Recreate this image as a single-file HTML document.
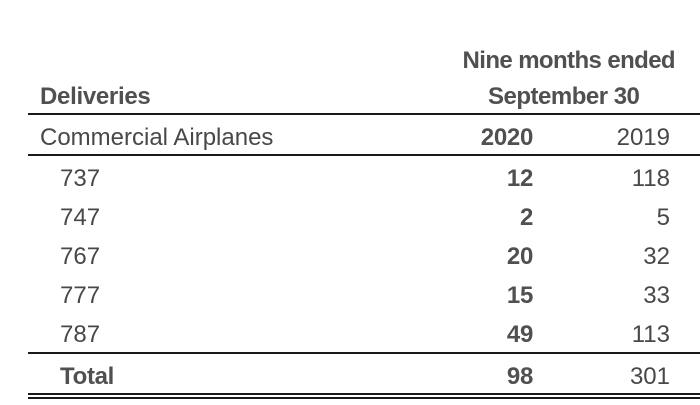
<!DOCTYPE html>
<html><head><meta charset="utf-8"><style>
body{margin:0;width:700px;height:405px;background:#fff;position:relative;overflow:hidden;font-family:"Liberation Sans",Arial,sans-serif;color:#484848}
.t{position:absolute;font-size:24px;line-height:24px;white-space:nowrap}
.b{font-weight:bold;color:#505050;letter-spacing:-0.3px}
.r{text-align:right}
.l{position:absolute;left:28px;right:0;background:#1a1a1a}
</style></head><body>
<div class="t b r" style="right:25px;top:49px;letter-spacing:-0.6px">Nine months ended</div>
<div class="t b" style="left:40px;top:85px">Deliveries</div>
<div class="t b" style="left:488px;top:85px;letter-spacing:-0.5px">September 30</div>
<div class="l" style="top:113px;height:2px"></div>
<div class="t" style="left:40px;top:126px">Commercial Airplanes</div>
<div class="t b r" style="right:167px;top:126px">2020</div>
<div class="t r" style="right:30px;top:126px">2019</div>
<div class="l" style="top:154px;height:2px"></div>

<div class="t" style="left:60px;top:167px">737</div>
<div class="t b r" style="right:167px;top:167px">12</div>
<div class="t r" style="right:30px;top:167px">118</div>

<div class="t" style="left:60px;top:206px">747</div>
<div class="t b r" style="right:167px;top:206px">2</div>
<div class="t r" style="right:30px;top:206px">5</div>

<div class="t" style="left:60px;top:245px">767</div>
<div class="t b r" style="right:167px;top:245px">20</div>
<div class="t r" style="right:30px;top:245px">32</div>

<div class="t" style="left:60px;top:284px">777</div>
<div class="t b r" style="right:167px;top:284px">15</div>
<div class="t r" style="right:30px;top:284px">33</div>

<div class="t" style="left:60px;top:323px">787</div>
<div class="t b r" style="right:167px;top:323px">49</div>
<div class="t r" style="right:30px;top:323px">113</div>

<div class="l" style="top:352px;height:2px"></div>
<div class="t b" style="left:60px;top:365px">Total</div>
<div class="t b r" style="right:167px;top:365px">98</div>
<div class="t r" style="right:30px;top:365px">301</div>
<div class="l" style="top:393px;height:2px"></div>
<div class="l" style="top:397px;height:2px"></div>
</body></html>
